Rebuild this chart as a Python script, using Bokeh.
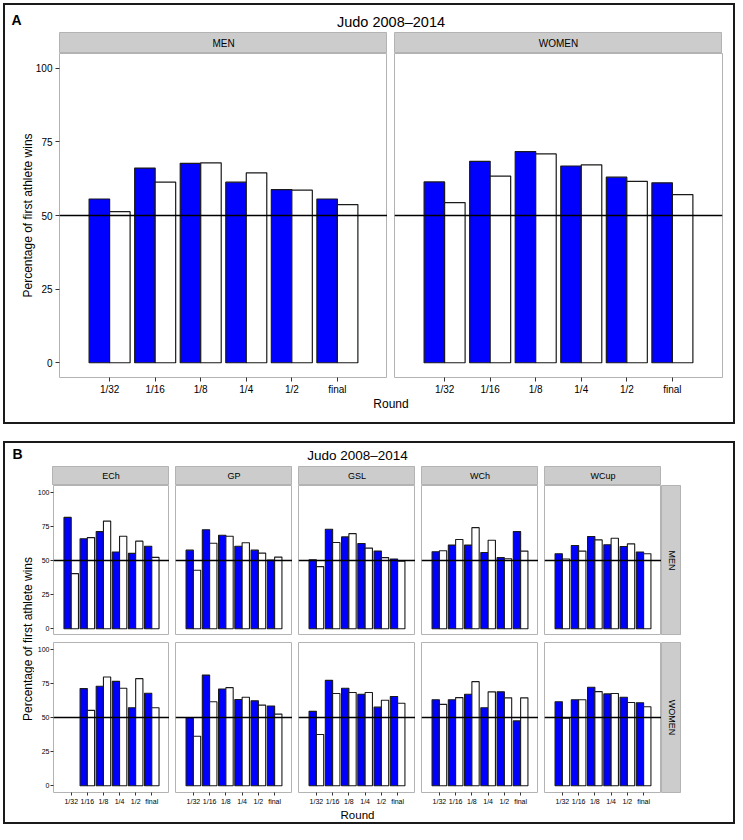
import math
from bokeh.plotting import figure
from bokeh.models import ColumnDataSource, FactorRange, Range1d, Span, Label, Spacer
from bokeh.layouts import row, column
from bokeh.transform import dodge
from bokeh.embed import file_html
from bokeh.resources import INLINE
from bokeh.core.validation import silence
from bokeh.core.validation.warnings import MISSING_RENDERERS

silence(MISSING_RENDERERS, True)

# ---------------- data ----------------
ROUNDS = ["1/32", "1/16", "1/8", "1/4", "1/2", "final"]
SEXES = ["MEN", "WOMEN"]
COMPETITIONS = ["ECh", "GP", "GSL", "WCh", "WCup"]
Y_TICKS = [0, 25, 50, 75, 100]
TITLE = "Judo 2008–2014"
Y_TITLE = "Percentage of first athlete wins"
X_TITLE = "Round"

# Panel A (all competitions)
men_blue = [55.6, 66.1, 67.7, 61.3, 58.8, 55.6]
men_white = [51.3, 61.3, 67.9, 64.5, 58.6, 53.7]
women_blue = [61.4, 68.4, 71.7, 66.8, 63.0, 61.1]
women_white = [54.4, 63.4, 70.9, 67.2, 61.6, 57.1]

# Panel B, men
ech_men_blue = [81.6, 65.9, 71.2, 56.2, 55.2, 60.5]
ech_men_white = [40.4, 66.8, 78.9, 67.8, 64.2, 52.3]
gp_men_blue = [57.6, 72.6, 68.5, 60.5, 57.6, 50.4]
gp_men_white = [42.9, 62.7, 67.8, 63.0, 55.4, 52.5]
gsl_men_blue = [50.6, 72.9, 67.3, 62.5, 56.9, 51.1]
gsl_men_white = [45.5, 63.2, 69.7, 59.1, 52.1, 49.4]
wch_men_blue = [56.4, 61.3, 61.3, 55.9, 52.1, 71.2]
wch_men_white = [57.1, 65.4, 74.1, 64.9, 51.3, 56.9]
wcup_men_blue = [55.0, 61.0, 67.6, 61.5, 60.3, 56.2]
wcup_men_white = [51.1, 56.9, 65.1, 66.3, 62.2, 55.0]

# Panel B, women (no 1/32 bouts at ECh)
ech_women_blue = [None, 71.2, 72.9, 76.5, 57.1, 67.8]
ech_women_white = [None, 55.2, 79.7, 71.4, 78.5, 57.1]
gp_women_blue = [49.9, 81.1, 70.9, 63.2, 62.2, 58.4]
gp_women_white = [36.3, 61.5, 71.9, 64.9, 59.1, 52.5]
gsl_women_blue = [54.5, 77.2, 71.4, 67.1, 57.6, 65.4]
gsl_women_white = [37.5, 67.6, 68.3, 68.3, 62.7, 60.5]
wch_women_blue = [63.0, 63.0, 67.1, 57.1, 68.8, 47.5]
wch_women_white = [59.6, 64.6, 76.3, 68.8, 64.4, 64.4]
wcup_women_blue = [61.5, 63.0, 72.2, 67.3, 64.9, 60.8]
wcup_women_white = [49.4, 63.0, 69.0, 67.6, 61.0, 57.9]

B_MEN = [(ech_men_blue, ech_men_white), (gp_men_blue, gp_men_white),
         (gsl_men_blue, gsl_men_white), (wch_men_blue, wch_men_white),
         (wcup_men_blue, wcup_men_white)]
B_WOMEN = [(ech_women_blue, ech_women_white), (gp_women_blue, gp_women_white),
           (gsl_women_blue, gsl_women_white), (wch_women_blue, wch_women_white),
           (wcup_women_blue, wcup_women_white)]

# ---------------- style ----------------
FONT = "Liberation Sans"
BLUE = "#0000ff"
STRIP = "#cccccc"
PANEL_BORDER = "#b3b3b3"
FRAME_LINE = "#1a1a1a"


def sp(w, h, color=None):
    kw = {}
    if color:
        kw["styles"] = {"background-color": color}
    return Spacer(width=w, height=h, margin=0, sizing_mode="fixed", **kw)


def deco_fig(w, h, bg="white", outline=None, bottom=0, frame_bg=None):
    fh = h - bottom
    p = figure(width=w, height=h, x_range=Range1d(0, w), y_range=Range1d(fh, 0),
               x_axis_location=None, y_axis_location=None, toolbar_location=None,
               output_backend="svg", min_border_left=0, min_border_right=0,
               min_border_top=0, min_border_bottom=bottom,
               background_fill_color=frame_bg or bg, border_fill_color=bg,
               outline_line_color=outline)
    p.grid.visible = False
    return p


def text(p, x, y, s, size, align="center", bold=False, angle=0.0):
    p.add_layout(Label(x=x, y=y, text=s, text_font=FONT, text_font_size=size,
                       text_align=align, text_baseline="middle", angle=angle,
                       text_color="black",
                       text_font_style="bold" if bold else "normal"))


def strip_h(w, h, s, size):
    p = deco_fig(w, h, bg=STRIP, outline=PANEL_BORDER)
    text(p, w / 2, h / 2, s, size)
    return p


def strip_v(w, h, s, size, bottom=0):
    p = deco_fig(w, h, bg="white", outline=PANEL_BORDER, bottom=bottom, frame_bg=STRIP)
    text(p, w / 2, (h - bottom) / 2, s, size, angle=-math.pi / 2)
    return p


def facet(blue, white, w, h, left, right, bottom, show_x, show_y,
          fs, tick_out, std_x, std_y, bar_lw=1.1):
    p = figure(width=w, height=h,
               x_range=FactorRange(factors=ROUNDS, range_padding=0.6,
                                   range_padding_units="absolute"),
               y_range=Range1d(-5, 105),
               x_axis_location="below" if show_x else None,
               y_axis_location="left" if show_y else None,
               toolbar_location=None, output_backend="svg",
               min_border_left=left, min_border_right=right,
               min_border_top=0, min_border_bottom=bottom,
               background_fill_color="white", border_fill_color="white",
               outline_line_color=PANEL_BORDER, outline_line_width=1)
    p.grid.visible = False
    bsrc = ColumnDataSource(dict(round=[r for r, v in zip(ROUNDS, blue) if v is not None],
                                 val=[v for v in blue if v is not None]))
    wsrc = ColumnDataSource(dict(round=[r for r, v in zip(ROUNDS, white) if v is not None],
                                 val=[v for v in white if v is not None]))
    p.vbar(x=dodge("round", -0.225, range=p.x_range), top="val", bottom=0, width=0.45,
           source=bsrc, fill_color=BLUE, line_color=FRAME_LINE, line_width=bar_lw)
    p.vbar(x=dodge("round", 0.225, range=p.x_range), top="val", bottom=0, width=0.45,
           source=wsrc, fill_color="white", line_color=FRAME_LINE, line_width=bar_lw)
    p.add_layout(Span(location=50, dimension="width", line_color="black", line_width=1.3))
    for ax in list(p.xaxis) + list(p.yaxis):
        ax.axis_line_color = None
        ax.major_tick_line_color = "#333333"
        ax.major_tick_out = tick_out
        ax.major_tick_in = 0
        ax.minor_tick_line_color = None
        ax.major_label_text_font = FONT
        ax.major_label_text_font_size = fs
        ax.major_label_text_color = "black"
    for ax in p.xaxis:
        ax.major_label_standoff = std_x
    for ax in p.yaxis:
        ax.ticker = Y_TICKS
        ax.major_label_standoff = std_y
    return p


def boxed(inner, w, h, b=2):
    mid = row([sp(b, h - 2 * b, FRAME_LINE), inner, sp(b, h - 2 * b, FRAME_LINE)],
              spacing=0, width=w, height=h - 2 * b, sizing_mode="fixed")
    return column([sp(w, b, FRAME_LINE), mid, sp(w, b, FRAME_LINE)],
                  spacing=0, width=w, height=h, sizing_mode="fixed")


def hrow(items, w, h):
    return row(items, spacing=0, width=w, height=h, sizing_mode="fixed")


def vcol(items, w, h):
    return column(items, spacing=0, width=w, height=h, sizing_mode="fixed")


PW = 735   # page width
BW = 732   # box width
IW = 728   # inner width of the boxes

# ---------------- panel A ----------------
hdrA = deco_fig(IW, 27)
text(hdrA, 6, 14, "A", "14px", align="left", bold=True)
text(hdrA, 385.5, 16, TITLE, "14.5px")

stripsA = hrow([sp(54, 21), strip_h(328, 21, SEXES[0], "10px"),
                sp(7, 21), strip_h(328, 21, SEXES[1], "10px"), sp(11, 21)], IW, 21)

pa_men = facet(men_blue, men_white, 382, 344, 54, 0, 18, True, True,
               "10px", 4, 2, 3, bar_lw=1.2)
pa_men.yaxis.axis_label = Y_TITLE
pa_men.yaxis.axis_label_text_font = FONT
pa_men.yaxis.axis_label_text_font_size = "12px"
pa_men.yaxis.axis_label_text_font_style = "normal"
pa_men.yaxis.axis_label_text_color = "black"
pa_men.yaxis.axis_label_standoff = -2
pa_women = facet(women_blue, women_white, 346, 344, 7, 11, 18, True, False,
                 "10px", 4, 2, 3, bar_lw=1.2)
panelsA = hrow([pa_men, pa_women], IW, 344)

footA = deco_fig(IW, 25)
text(footA, 385.5, 6.3, X_TITLE, "12px")

boxA = boxed(vcol([hdrA, stripsA, panelsA, footA], IW, 417), BW, 421)

# ---------------- panel B ----------------
hdrB = deco_fig(IW, 23)
text(hdrB, 7, 10, "B", "14px", align="left", bold=True)
text(hdrB, 352, 11.5, TITLE, "13.5px")

strip_items = [sp(47, 19)]
for i, c in enumerate(COMPETITIONS):
    strip_items.append(strip_h(117, 19, c, "9px"))
    if i < len(COMPETITIONS) - 1:
        strip_items.append(sp(6, 19))
strip_items.append(sp(72, 19))
stripsB = hrow(strip_items, IW, 19)

men_row = []
women_row = []
for i, c in enumerate(COMPETITIONS):
    first = i == 0
    w = 135 if first else 123
    lb = 18 if first else 6
    mb, mw = B_MEN[i]
    fb, fw = B_WOMEN[i]
    men_row.append(facet(mb, mw, w, 150, lb, 0, 0, False, first, "7px", 3, 2, 1))
    women_row.append(facet(fb, fw, w, 165, lb, 0, 15, True, first, "7px", 3, 2, 1))
men_row += [strip_v(20, 150, SEXES[0], "9px"), sp(52, 150)]
women_row += [strip_v(20, 165, SEXES[1], "9px", bottom=15), sp(52, 165)]

GW = IW - 29
grid_col = vcol([hrow(men_row, GW, 150), sp(GW, 7), hrow(women_row, GW, 165)], GW, 322)
ytitleB = deco_fig(29, 322)
text(ytitleB, 22, 153.5, Y_TITLE, "12px", angle=math.pi / 2)
gridB = hrow([ytitleB, grid_col], IW, 322)

footB = deco_fig(IW, 15)
text(footB, 352, 7, X_TITLE, "11.5px")

boxB = boxed(vcol([hdrB, stripsB, gridB, footB], IW, 379), BW, 383)

# ---------------- page ----------------
page = vcol([sp(PW, 3),
             hrow([sp(3, 421), boxA], PW, 421),
             sp(PW, 17),
             hrow([sp(3, 383), boxB], PW, 383)], PW, 824)

open("out.html", "w").write(file_html(page, INLINE))
